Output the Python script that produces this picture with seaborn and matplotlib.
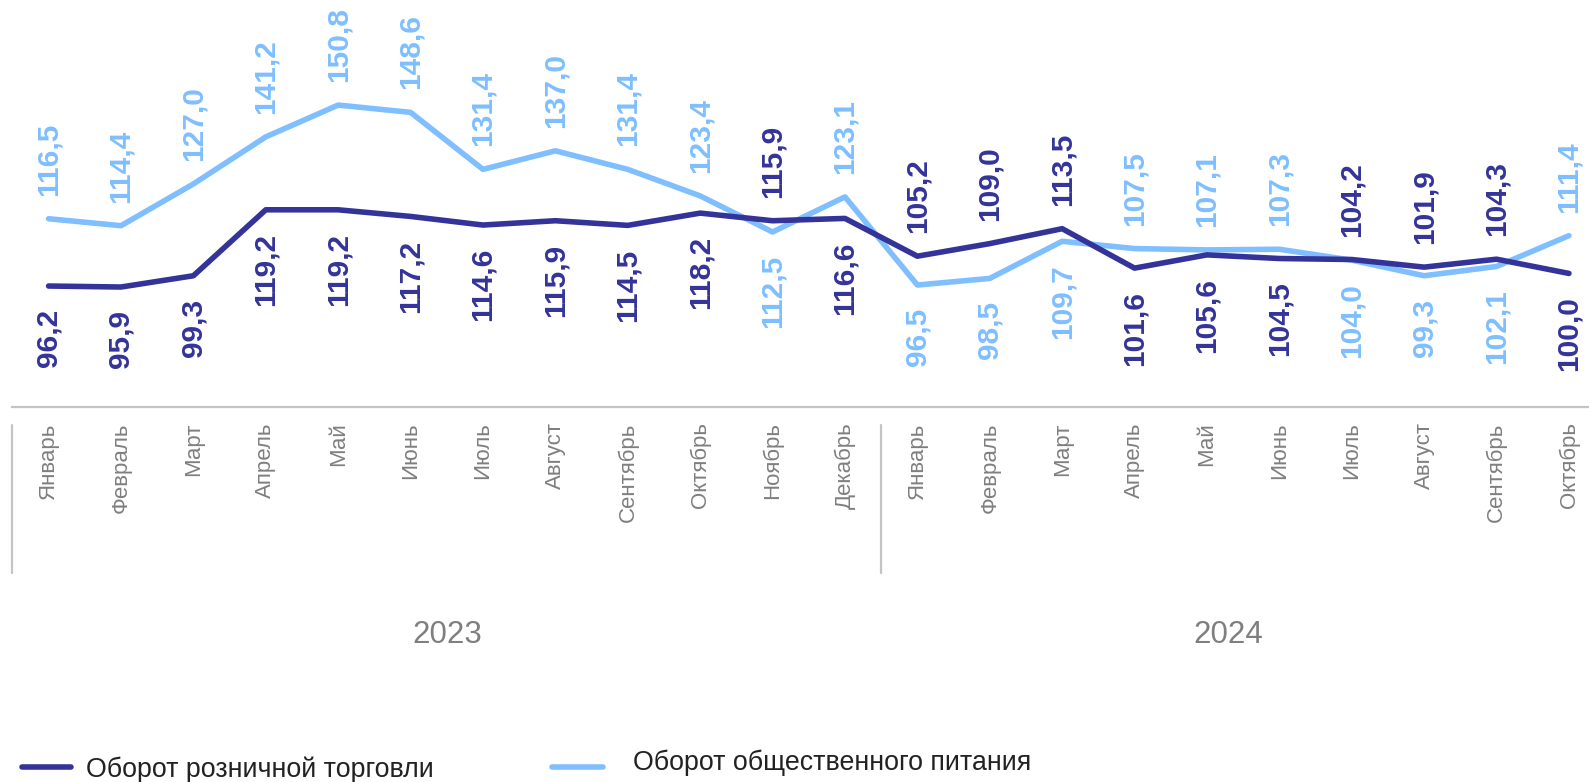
import matplotlib
matplotlib.use("Agg")
import matplotlib.pyplot as plt
import matplotlib.transforms as mtransforms
from matplotlib.lines import Line2D
import seaborn as sns
import pandas as pd

# ---------------- data ----------------
months = ["Январь", "Февраль", "Март", "Апрель", "Май", "Июнь", "Июль", "Август",
          "Сентябрь", "Октябрь", "Ноябрь", "Декабрь",
          "Январь", "Февраль", "Март", "Апрель", "Май", "Июнь", "Июль", "Август",
          "Сентябрь", "Октябрь"]
years = ["2023", "2024"]
retail = [96.2, 95.9, 99.3, 119.2, 119.2, 117.2, 114.6, 115.9, 114.5, 118.2, 115.9, 116.6,
          105.2, 109.0, 113.5, 101.6, 105.6, 104.5, 104.2, 101.9, 104.3, 100.0]
food = [116.5, 114.4, 127.0, 141.2, 150.8, 148.6, 131.4, 137.0, 131.4, 123.4, 112.5, 123.1,
        96.5, 98.5, 109.7, 107.5, 107.1, 107.3, 104.0, 99.3, 102.1, 111.4]
series_names = ["Оборот розничной торговли", "Оборот общественного питания"]

# ---------------- style ----------------
sns.set_style("white")
plt.rcParams["font.family"] = ["Liberation Sans", "DejaVu Sans"]

c_dark = "#333399"
c_light = "#7fbfff"
c_gray = "#7f7f7f"
c_axis = "#c4c4c4"

W, H = 1589, 782
fig = plt.figure(figsize=(W / 100, H / 100), dpi=100)
axis_px = 407
ax = fig.add_axes([0, (H - axis_px) / H, 1, axis_px / H])

idx = list(range(len(months)))
df = pd.DataFrame({
    "x": idx * 2,
    "value": retail + food,
    "series": [series_names[0]] * len(idx) + [series_names[1]] * len(idx),
})
sns.lineplot(data=df, x="x", y="value", hue="series",
             palette={series_names[0]: c_dark, series_names[1]: c_light},
             hue_order=[series_names[1], series_names[0]],
             linewidth=4.0, legend=False, ax=ax, sort=False)

ax.set_xlim(-0.671, 21.277)
ax.set_ylim(59.7, 182.5)
ax.set_xlabel("")
ax.set_ylabel("")
ax.set_yticks([])
ax.set_xticks(idx)
ax.set_xticklabels(months, rotation=90, color=c_gray, fontsize=16)
ax.tick_params(axis="x", length=0, pad=11)
for s in ["top", "left", "right"]:
    ax.spines[s].set_visible(False)
ax.spines["bottom"].set_color(c_axis)
ax.spines["bottom"].set_linewidth(1.6)
ax.spines["bottom"].set_bounds(-0.5, 21.6)
ax.patch.set_alpha(0)

# data labels
def fmt(v):
    return f"{v:.1f}".replace(".", ",")

for i in idx:
    r, f = retail[i], food[i]
    for v, col, up in ((r, c_dark, r > f), (f, c_light, f >= r)):
        ax.annotate(fmt(v), xy=(i, v), xytext=(0, 16.5 if up else -16.5),
                    textcoords="offset points", rotation=90,
                    ha="center", va="bottom" if up else "top",
                    color=col, fontsize=21.5, fontweight="bold",
                    annotation_clip=False)

# group separators and year labels
bt = mtransforms.blended_transform_factory(ax.transData, fig.transFigure)
for xs in (-0.5, 11.5):
    fig.add_artist(Line2D([xs, xs], [1 - 425 / H, 1 - 573 / H], transform=bt,
                          color=c_axis, linewidth=1.6))
for xc, yr in zip((5.5, 16.3), years):
    fig.text(xc, 1 - 635 / H, yr, transform=bt, ha="center", va="center",
             color=c_gray, fontsize=22.5)

# legend
fig.add_artist(Line2D([22 / W, 71 / W], [1 - 767 / H] * 2, transform=fig.transFigure,
                      color=c_dark, linewidth=4.0))
fig.text(86 / W, 1 - 770 / H, series_names[0], ha="left", va="center",
         color="#222222", fontsize=19.3)
fig.add_artist(Line2D([552 / W, 603 / W], [1 - 767 / H] * 2, transform=fig.transFigure,
                      color=c_light, linewidth=4.0))
fig.text(633 / W, 1 - 763 / H, series_names[1], ha="left", va="center",
         color="#222222", fontsize=19.3)

fig.savefig("out.png", dpi=100)
